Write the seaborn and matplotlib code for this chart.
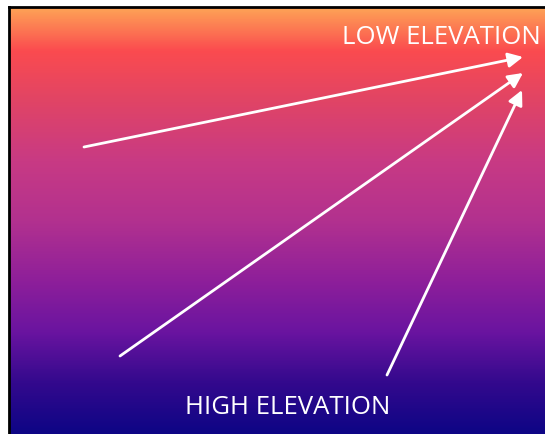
import numpy as np
import matplotlib
matplotlib.use("Agg")
import matplotlib.pyplot as plt
import seaborn as sns
from matplotlib.colors import LinearSegmentedColormap

# gradient stops (0 = top, 1 = bottom)
stop_pos = [0.0, 0.10, 0.22, 0.36, 0.50, 0.64, 0.76, 0.88, 1.0]
stop_colors = ["#fea356", "#fb4b4f", "#e04466", "#c83a84", "#b2318f",
               "#8e1f9a", "#6a14a0", "#33098d", "#0d0585"]

# arrows in picture pixel coords
tail_x = [84, 120, 387]
tail_y = [148, 357, 376]
head_x = [523, 523, 522]
head_y = [58, 74, 91]

labels = ["LOW ELEVATION", "HIGH ELEVATION"]
label_x = [541, 288]
label_y = [37, 408]

sns.set_theme(style="white")
plt.rcParams["font.family"] = ["Open Sans", "DejaVu Sans"]

fig = plt.figure(figsize=(5.45, 4.35), dpi=100)
# axes from x=9..552 px, y=8..440 px (right/bottom edges run off the image)
ax = fig.add_axes([9 / 545, -5 / 435, 543 / 545, 432 / 435])

cmap = LinearSegmentedColormap.from_list("elev", list(zip(stop_pos, stop_colors)))
grad = np.linspace(0, 1, 500).reshape(-1, 1)
ax.imshow(grad, cmap=cmap, aspect="auto", extent=[9, 552, 436, 8], interpolation="bilinear")
ax.set_xlim(9, 552)
ax.set_ylim(440, 8)

for tx, ty, hx, hy in zip(tail_x, tail_y, head_x, head_y):
    ax.annotate("", xy=(hx, hy), xytext=(tx, ty),
                arrowprops=dict(arrowstyle="-|>", color="white", lw=2,
                                mutation_scale=22, shrinkA=0, shrinkB=0))

ax.text(label_x[0], label_y[0], labels[0], color="white", fontsize=18.5,
        ha="right", va="center")
ax.text(label_x[1], label_y[1], labels[1], color="white", fontsize=18.5,
        ha="center", va="center")

ax.set_xticks([])
ax.set_yticks([])
for name, s in ax.spines.items():
    s.set_color("black")
    s.set_linewidth(2)
    s.set_visible(name in ("left", "top"))

fig.savefig("out.png", dpi=100)
